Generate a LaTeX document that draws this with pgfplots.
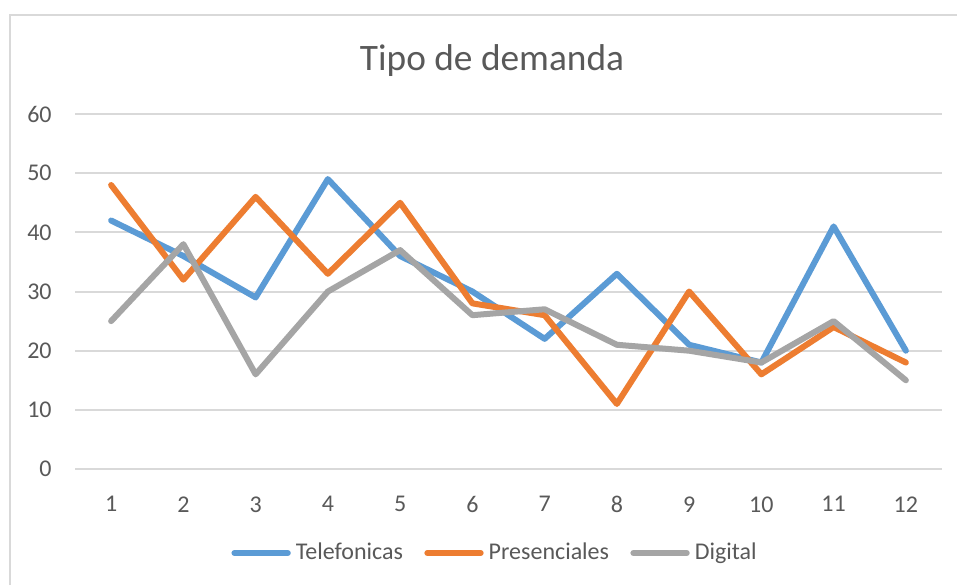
\documentclass[border=0pt]{standalone}
\usepackage{fontspec}
\setmainfont{Carlito}
\usepackage{pgfplots}
\pgfplotsset{compat=1.18}
\definecolor{cblue}{HTML}{5B9BD5}
\definecolor{corange}{HTML}{ED7D31}
\definecolor{cgray}{HTML}{A5A5A5}
\definecolor{ctext}{HTML}{595959}
\definecolor{cgrid}{HTML}{D9D9D9}
\begin{document}
\begin{tikzpicture}
\useasboundingbox (0,0) rectangle (358.875pt,219.375pt);
\fill[white] (0,0) rectangle (358.875pt,219.375pt);
\draw[cgrid, line width=0.75pt] (3.75pt,0) -- (3.75pt,213.75pt) -- (358.875pt,213.75pt);
\node[anchor=base, text=ctext, font=\fontsize{14}{17}\selectfont, inner sep=0pt] at (184.5pt,193.1pt) {Tipo de demanda};
\begin{axis}[
  at={(28.125pt,43.5pt)}, anchor=south west,
  width=325.125pt, height=133.125pt, scale only axis,
  xmin=0.5, xmax=12.5, ymin=0, ymax=60,
  xtick={1,...,12}, ytick={0,10,...,60},
  ymajorgrids, major grid style={cgrid, line width=0.75pt},
  axis line style={draw=none}, major tick length=0pt,
  tick label style={font=\fontsize{9}{11}\selectfont, text=ctext},
  /pgf/number format/assume math mode=true,
  xticklabel style={yshift=-6.75pt}, yticklabel style={xshift=-5.25pt},
  every axis plot/.append style={line width=2.25pt, line join=round, line cap=round, mark=none},
  legend image code/.code={\draw[#1] (0pt,0pt) -- (20pt,0pt);},
  legend style={draw=none, fill=none, at={(0.4833,-0.2366)}, anchor=center,
    legend columns=-1, font=\fontsize{9}{11}\selectfont, text=ctext,
    nodes={inner sep=0pt},
    /tikz/every odd column/.append style={column sep=1.9pt},
    /tikz/every even column/.append style={column sep=8pt}},
]
\addplot[cblue] coordinates {(1,42) (2,36) (3,29) (4,49) (5,36) (6,30) (7,22) (8,33) (9,21) (10,18) (11,41) (12,20)};
\addplot[corange] coordinates {(1,48) (2,32) (3,46) (4,33) (5,45) (6,28) (7,26) (8,11) (9,30) (10,16) (11,24) (12,18)};
\addplot[cgray] coordinates {(1,25) (2,38) (3,16) (4,30) (5,37) (6,26) (7,27) (8,21) (9,20) (10,18) (11,25) (12,15)};
\legend{Telefonicas, Presenciales, Digital}
\end{axis}
\end{tikzpicture}
\end{document}
